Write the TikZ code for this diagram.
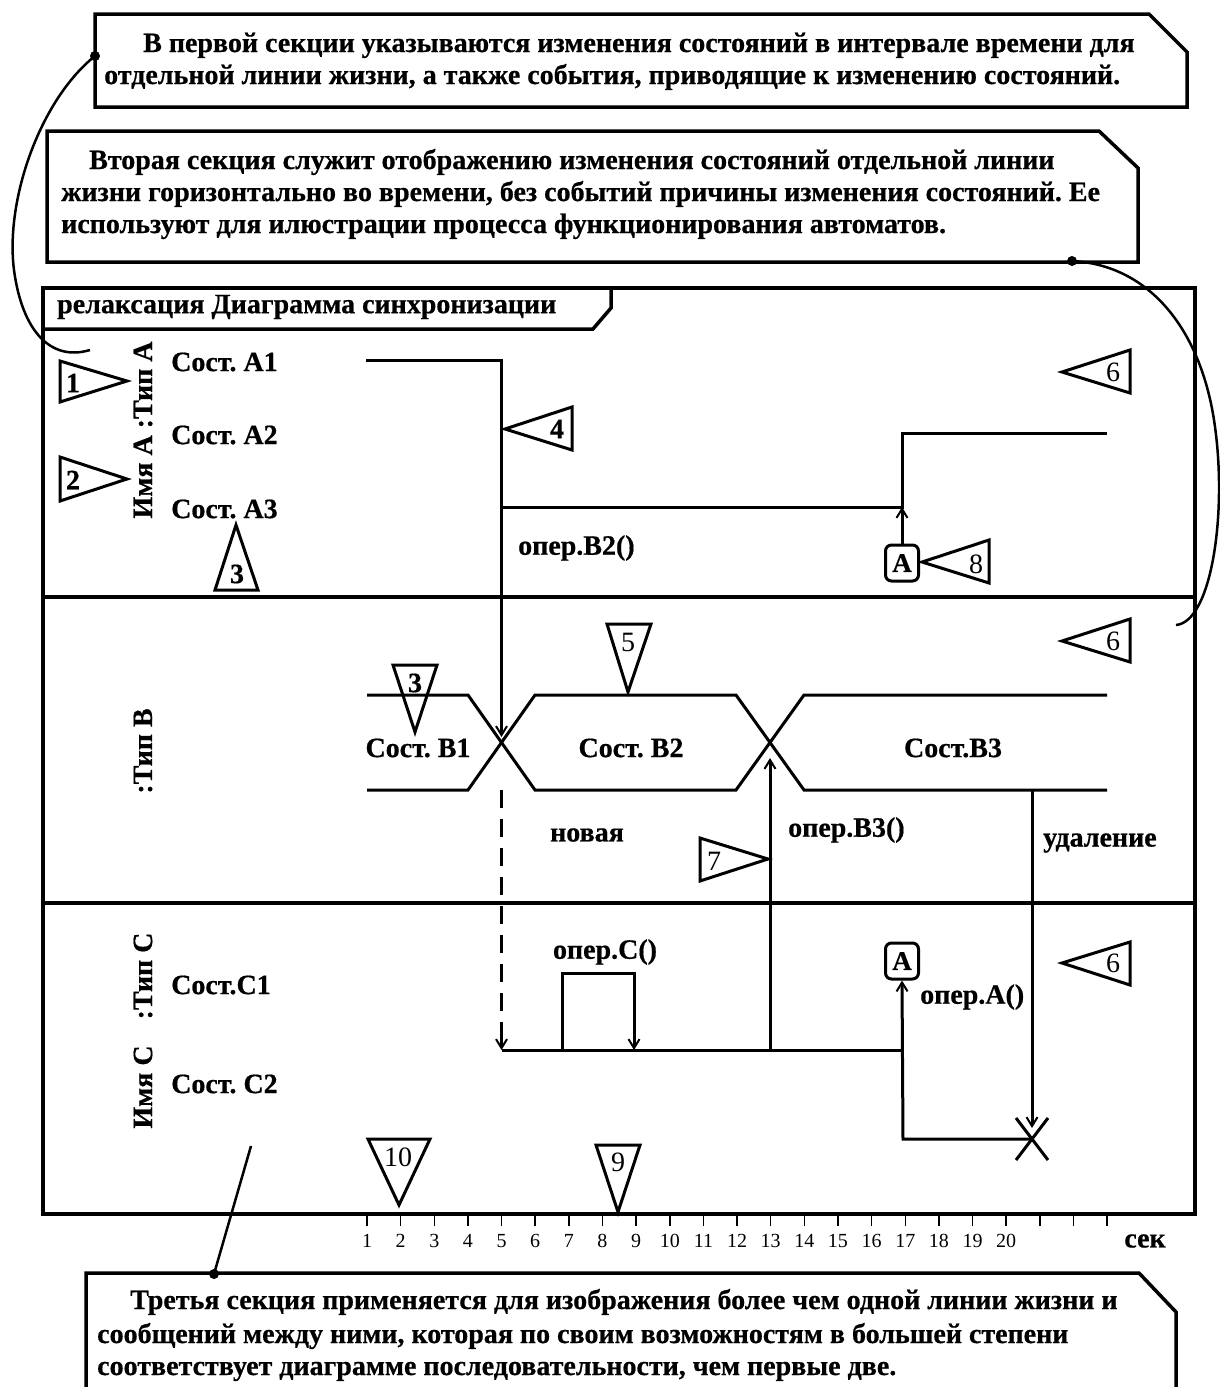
\documentclass[tikz,border=0pt]{standalone}
\usepackage{fontspec}
\setmainfont{Liberation Serif}[BoldFeatures={FakeBold=0.6}]
\usetikzlibrary{arrows.meta}
\AtBeginDocument{\frenchspacing}
\begin{document}
\begin{tikzpicture}[x=1pt,y=-1pt,
  frame/.style={line width=3.5pt},
  ln/.style={line width=3pt},
  cbox/.style={line width=3.5pt, line join=miter},
  txt/.style={font=\fontsize{28}{32}\selectfont\bfseries, inner sep=0pt, anchor=base west},
  lbl/.style={font=\fontsize{28}{32}\selectfont\bfseries, inner sep=0pt},
  tri/.style={line width=3pt, line join=miter},
  num/.style={font=\fontsize{28}{32}\selectfont, inner sep=0pt},
  bnum/.style={font=\fontsize{28}{32}\selectfont\bfseries, inner sep=0pt},
  arr/.style={-{Straight Barb[length=9pt,width=11pt,line width=2pt]}},
  curve/.style={line width=2.5pt},
  abox/.style={draw, line width=3pt, rounded corners=6pt, minimum width=33pt, minimum height=36pt, inner sep=0pt, font=\fontsize{27}{30}\selectfont\bfseries},
  tick/.style={line width=1.5pt},
  ticklbl/.style={font=\fontsize{20}{22}\selectfont, inner sep=0pt},
]
\useasboundingbox (0,0) rectangle (1219,1387);

% ---------- comment box 1 ----------
\draw[cbox] (95,14) -- (1149,14) -- (1187,52) -- (1187,107) -- (95,107) -- cycle;
\node[txt] (c1a) at (143,52) {В первой секции указываются изменения состояний в интервале времени для};
\node[txt] (c1b) at (104,84) {отдельной линии жизни, а также события, приводящие к изменению состояний.};
\coordinate (d1) at (95,56);
\coordinate (e1) at (90,350);
\fill (d1) circle (5);
\draw[curve] (d1) .. controls (40,100) and (5,200) .. (14,270) .. controls (22,330) and (50,362) .. (e1);

% ---------- comment box 2 ----------
\draw[cbox] (47,131) -- (1099,131) -- (1138,168) -- (1138,262) -- (47,262) -- cycle;
\node[txt] (c2a) at (89,169) {Вторая секция служит отображению изменения состояний отдельной линии};
\node[txt] (c2b) at (61,201) {жизни горизонтально во времени, без событий причины изменения состояний. Ее};
\node[txt] (c2c) at (61,233) {используют для илюстрации процесса функционирования автоматов.};
\coordinate (d2) at (1072,261);
\coordinate (e2) at (1176,625);
\fill (d2) circle (5);
\draw[curve] (d2) .. controls (1150,265) and (1200,330) .. (1214,420) .. controls (1228,510) and (1212,622) .. (e2);

% ---------- main frame ----------
\draw[frame] (43,288) rectangle (1195,1214);
\draw[frame] (43,329) -- (593,329) -- (611,308) -- (611,288);
\draw[frame] (43,597) -- (1195,597);
\draw[frame] (43,903) -- (1195,903);
\node[lbl, anchor=west] (title) at (57,307) {релаксация Диаграмма синхронизации};

% ---------- section A ----------
\node[lbl, rotate=90] (nameA) at (143,430) {Имя А :Тип А};
\node[lbl, anchor=west] (sa1) at (171,362) {Сост. А1};
\node[lbl, anchor=west] (sa2) at (171,435) {Сост. А2};
\node[lbl, anchor=west] (sa3) at (171,509) {Сост. А3};
\coordinate (a1s) at (366,360);
\coordinate (t5a1) at (501.5,360);
\coordinate (t5a3) at (501.5,507);
\coordinate (t17a3) at (902,507);
\coordinate (t17a2) at (902,433);
\coordinate (a2e) at (1107,433);
\draw[ln] (a1s) -- (t5a1) -- (t5a3) -- (t17a3) -- (t17a2) -- (a2e);
\node[lbl, anchor=west] (opb2) at (518,548) {опер.В2()};
\node[abox] (boxA1) at (902,563) {А};
\draw[ln,arr] (boxA1.north) -- (t17a3);

% ---------- section B ----------
\node[lbl, rotate=90] (nameB) at (143,751) {:Тип В};
\coordinate (x1) at (501.5,742.5);
\coordinate (x2) at (770,742.5);
\draw[ln] (367,695) -- (468,695) -- (535,790) -- (736,790) -- (804,695) -- (1107,695);
\draw[ln] (367,790) -- (468,790) -- (535,695) -- (736,695) -- (804,790) -- (1107,790);
\node[lbl] (sb1) at (418,748) {Сост. В1};
\node[lbl] (sb2) at (631,748) {Сост. В2};
\node[lbl] (sb3) at (953,748) {Сост.В3};
\coordinate (x1a) at (501.5,737);
\draw[ln,arr] (t5a3) -- (x1a);
\node[lbl] (nov) at (587,835) {новая};
\node[lbl, anchor=west] (opb3) at (788,830) {опер.В3()};
\node[lbl, anchor=west] (del) at (1043,843) {удаление};

% ---------- section C ----------
\node[lbl, rotate=90] (typeC) at (143,976) {:Тип С};
\node[lbl, rotate=90] (nameC) at (143,1087) {Имя С};
\node[lbl, anchor=west] (sc1) at (171,985) {Сост.С1};
\node[lbl, anchor=west] (sc2) at (171,1084) {Сост. С2};
\coordinate (x1b) at (501.5,790);
\coordinate (c5) at (501.5,1050);
\coordinate (c5d) at (501.5,1025);
\coordinate (c7) at (562,1050);
\coordinate (c7u) at (562,973);
\coordinate (c9u) at (634,973);
\coordinate (c9) at (634,1050);
\coordinate (c13) at (770,1050);
\coordinate (c17) at (903,1050);
\coordinate (x2b) at (770,758);
\draw[ln, dash pattern=on 18pt off 11pt] (x1b) -- (c5d);
\draw[ln,arr] (c5d) -- (c5);
\draw[ln] (c5) -- (c17);
\draw[ln,arr] (c7) -- (c7u) -- (c9u) -- (c9);
\draw[ln,arr] (c13) -- (x2b);
\node[lbl] (opc) at (605,952) {опер.С()};
\node[abox] (boxA2) at (902,961) {А};
\node[lbl, anchor=west] (opa) at (920,997) {опер.А()};
\coordinate (del1) at (1032,790);
\coordinate (delx) at (1032,1139);
\coordinate (dela) at (1032,1128);
\coordinate (c17b) at (903,1139);
\draw[ln,arr] (del1) -- (dela);
\draw[ln,arr] (delx) -- (c17b) -- (boxA2.south);
\draw[line width=3pt] (1016,1118) -- (1048,1160) (1016,1160) -- (1048,1118);

% ---------- marker triangles ----------
\draw[tri] (60,361) -- (127,381) -- (60,402) -- cycle;
\node[bnum] (n1) at (73,383) {1};
\draw[tri] (60,457) -- (127,479) -- (60,501) -- cycle;
\node[bnum] (n2) at (73,480) {2};
\draw[tri] (236,525) -- (258,590) -- (215,590) -- cycle;
\node[bnum] (n3) at (237,574) {3};
\draw[tri] (505,429) -- (572,407) -- (572,450) -- cycle;
\node[bnum] (n4) at (557,429) {4};
\draw[tri] (1062,372) -- (1130,350) -- (1130,393) -- cycle;
\node[num] (n6a) at (1113,372) {6};
\draw[tri] (922,562) -- (989,540) -- (989,583) -- cycle;
\node[num] (n8) at (976,564) {8};
\draw[tri] (393,665) -- (437,665) -- (415,732) -- cycle;
\node[bnum] (n3b) at (415,683) {3};
\draw[tri] (607,624) -- (651,624) -- (628,692) -- cycle;
\node[num] (n5) at (628,642) {5};
\draw[tri] (1062,641) -- (1130,619) -- (1130,662) -- cycle;
\node[num] (n6b) at (1113,641) {6};
\draw[tri] (700,838) -- (768,859) -- (700,881) -- cycle;
\node[num] (n7) at (714,861) {7};
\draw[tri] (1062,963) -- (1130,942) -- (1130,985) -- cycle;
\node[num] (n6c) at (1113,963) {6};
\draw[tri] (368,1139) -- (430,1139) -- (399,1205) -- cycle;
\node[num] (n10) at (398,1157) {10};
\draw[tri] (596,1145) -- (640,1145) -- (618,1212) -- cycle;
\node[num] (n9) at (618,1162) {9};

% ---------- time axis ----------
\foreach \t in {1,...,23} \draw[tick] ({367+33.64*(\t-1)},1214) -- ++(0,12);
\foreach \t in {1,...,20} \node[ticklbl] (tk\t) at ({367+33.64*(\t-1)},1241) {\t};
\node[lbl] (sec) at (1145,1241) {сек};

% ---------- comment box 3 ----------
\coordinate (d3) at (214,1274);
\coordinate (s3) at (251,1146);
\draw[cbox] (86,1390) -- (86,1273) -- (1139,1273) -- (1176,1312) -- (1176,1390);
\draw[curve] (s3) -- (d3);
\fill (d3) circle (5);
\node[txt] (c3a) at (130,1309) {Третья секция применяется для изображения более чем одной линии жизни и};
\node[txt] (c3b) at (97,1343) {сообщений между ними, которая по своим возможностям в большей степени};
\node[txt] (c3c) at (97,1375) {соответствует диаграмме последовательности, чем первые две.};
\end{tikzpicture}
\end{document}
